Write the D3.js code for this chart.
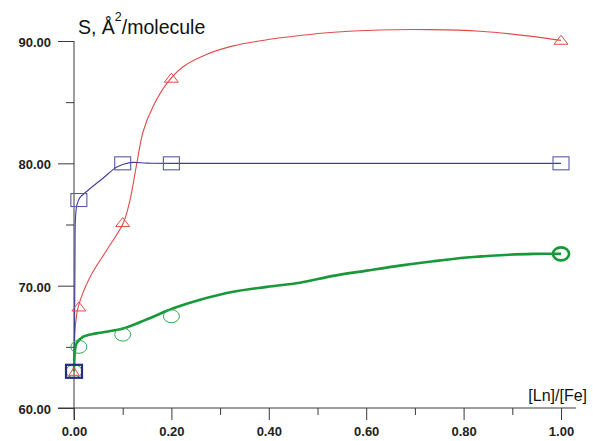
<!DOCTYPE html>
<html>
<head>
<meta charset="utf-8">
<script src="https://cdn.jsdelivr.net/npm/d3@7"></script>
<style>
  html, body { margin: 0; padding: 0; background: #fff; }
  svg { display: block; }
  text { font-family: "Liberation Sans", Arial, sans-serif; }
</style>
</head>
<body>
<svg id="chart" width="593" height="441"></svg>
<script>
// ---- data ----
const yMajorTicks = [60, 70, 80, 90];
const yMinorTicks = [65, 75, 85];
const xMajorTicks = [0, 0.2, 0.4, 0.6, 0.8, 1.0];
const xMinorTicks = [0.1, 0.3, 0.5, 0.7, 0.9];

// measured points (markers)
const markerX      = [0, 0.01, 0.1, 0.2, 1.0];
const triangleY    = [63, 68.3, 75.2, 87.0, 90.1];   // red
const squareY      = [63, 77.0, 80.0, 80.0, 80.0];   // blue
const circleY      = [63, 65.0, 66.0, 67.5, 72.6];   // green

// fitted curves
const redCurveX   = [0, 0.001, 0.003, 0.009, 0.033, 0.067, 0.101, 0.115, 0.129, 0.142, 0.163, 0.19, 0.224, 0.272, 0.327, 0.396, 0.464, 0.526, 0.628, 0.731, 0.834, 0.936, 1.0];
const redCurveY   = [63, 65.0, 66.8, 68.3, 70.7, 72.9, 75.1, 77.0, 80.0, 82.6, 84.7, 86.5, 87.9, 88.9, 89.6, 90.1, 90.45, 90.7, 90.9, 90.93, 90.8, 90.4, 90.05];
const blueCurveX  = [0, 0.001, 0.002, 0.003, 0.006, 0.012, 0.026, 0.06, 0.088, 0.115, 0.15, 0.2, 0.6, 1.0];
const blueCurveY  = [63, 66, 72, 75.5, 76.6, 77.2, 77.7, 78.8, 79.7, 80.06, 80.02, 80.0, 80.0, 80.0];
const greenCurveX = [0, 0.0005, 0.002, 0.0055, 0.019, 0.046, 0.101, 0.15, 0.204, 0.259, 0.327, 0.396, 0.464, 0.532, 0.601, 0.669, 0.738, 0.806, 0.875, 0.943, 1.0];
const greenCurveY = [63, 63.7, 64.7, 65.3, 65.83, 66.1, 66.5, 67.25, 68.15, 68.85, 69.5, 69.9, 70.24, 70.8, 71.23, 71.64, 72.0, 72.3, 72.49, 72.6, 72.6];

const titleMain = "S, Å";
const titleSup = "2";
const titleRest = "/molecule";
const xTitle = "[Ln]/[Fe]";

// ---- colours ----
const RED = "#e34a4a", BLUE = "#3f3f96", BLUE_MK = "#5a5aa6", GREEN = "#17993a", GREEN_MK = "#2faa4e", AXIS = "#3a3a3a";

const svg = d3.select("#chart");
const x = d3.scaleLinear().domain([0, 1]).range([74, 561]);
const y = d3.scaleLinear().domain([60, 90]).range([408, 41]);

// ---- axes ----
const gY = svg.append("g").attr("transform", `translate(${x(0)},0)`);
gY.call(d3.axisLeft(y).tickValues(yMajorTicks).tickSize(16).tickFormat(d3.format(".2f")));
gY.call(g => g.select(".domain").remove());
gY.selectAll(".tick line").attr("stroke", AXIS);
gY.selectAll(".tick text").attr("x", -23).attr("dy", "0.42em")
  .style("font-size", "13px").style("font-weight", "bold").attr("fill", "#222");
const gYm = svg.append("g").attr("transform", `translate(${x(0)},0)`);
gYm.call(d3.axisLeft(y).tickValues(yMinorTicks).tickSize(8).tickFormat(""));
gYm.call(g => g.select(".domain").remove());
gYm.selectAll(".tick line").attr("stroke", AXIS);

const gX = svg.append("g").attr("transform", `translate(0,${y(60)})`);
gX.call(d3.axisBottom(x).tickValues(xMajorTicks).tickSize(12).tickFormat(d3.format(".2f")));
gX.call(g => g.select(".domain").remove());
gX.selectAll(".tick line").attr("stroke", AXIS);
gX.selectAll(".tick text").attr("y", 28).attr("dy", 0)
  .style("font-size", "13px").style("font-weight", "bold").attr("fill", "#222");
const gXm = svg.append("g").attr("transform", `translate(0,${y(60)})`);
gXm.call(d3.axisBottom(x).tickValues(xMinorTicks).tickSize(7).tickFormat(""));
gXm.call(g => g.select(".domain").remove());
gXm.selectAll(".tick line").attr("stroke", AXIS);

// axis lines
svg.append("line").attr("x1", x(0)).attr("x2", x(0)).attr("y1", y(90)).attr("y2", y(60) + 12)
  .attr("stroke", AXIS).attr("stroke-width", 1);
svg.append("line").attr("x1", x(0) - 16).attr("x2", x(1) + 15).attr("y1", y(60)).attr("y2", y(60))
  .attr("stroke", AXIS).attr("stroke-width", 1);

// titles
const t = svg.append("text").attr("x", 78).attr("y", 34).style("font-size", "19.5px").attr("fill", "#111");
t.append("tspan").text(titleMain);
t.append("tspan").attr("dy", -13).style("font-size", "12.5px").text(titleSup);
t.append("tspan").attr("dy", 13).text(titleRest);

svg.append("text").attr("x", 587).attr("y", 401).attr("text-anchor", "end")
  .style("font-size", "16px").attr("fill", "#111").text(xTitle);

// ---- curves ----
const line = d3.line().x(d => x(d[0])).y(d => y(d[1])).curve(d3.curveCatmullRom.alpha(0.5));
const zip = (a, b) => a.map((v, i) => [v, b[i]]);

svg.append("path").datum(zip(redCurveX, redCurveY)).attr("d", line)
  .attr("fill", "none").attr("stroke", RED).attr("stroke-width", 1.1);
svg.append("path").datum(zip(blueCurveX, blueCurveY)).attr("d", line)
  .attr("fill", "none").attr("stroke", BLUE).attr("stroke-width", 1.1);
svg.append("path").datum(zip(greenCurveX, greenCurveY)).attr("d", line)
  .attr("fill", "none").attr("stroke", GREEN).attr("stroke-width", 2.6);

// ---- markers ----
const circ = zip(markerX, circleY);
svg.selectAll("ellipse.g").data(circ).join("ellipse")
  .attr("cx", d => x(d[0])).attr("cy", d => y(d[1]))
  .attr("rx", 8).attr("ry", 6.5)
  .attr("fill", "none")
  .attr("stroke", (d, i) => i === circ.length - 1 ? GREEN : GREEN_MK)
  .attr("stroke-width", (d, i) => i === circ.length - 1 ? 2.6 : 1);

const tri = zip(markerX, triangleY);
svg.selectAll("path.tri").data(tri).join("path")
  .attr("d", (d, i) => {
    const cx = x(d[0]), cy = y(d[1]);
    const w = i === 0 ? 5 : 7, h = i === 0 ? 4 : 4.5;
    return `M${cx - w},${cy + h}L${cx + w},${cy + h}L${cx},${cy - h}Z`;
  })
  .attr("fill", "none").attr("stroke", RED).attr("stroke-width", 1);

const sq = zip(markerX, squareY);
svg.selectAll("rect.sq").data(sq).join("rect")
  .attr("x", d => x(d[0]) - 8).attr("y", d => y(d[1]) - 6.5)
  .attr("width", 16).attr("height", 13)
  .attr("fill", "none")
  .attr("stroke", (d, i) => i === 0 ? "#2a2a80" : BLUE_MK)
  .attr("stroke-width", (d, i) => i === 0 ? 2.2 : 1.1);
</script>
</body>
</html>
